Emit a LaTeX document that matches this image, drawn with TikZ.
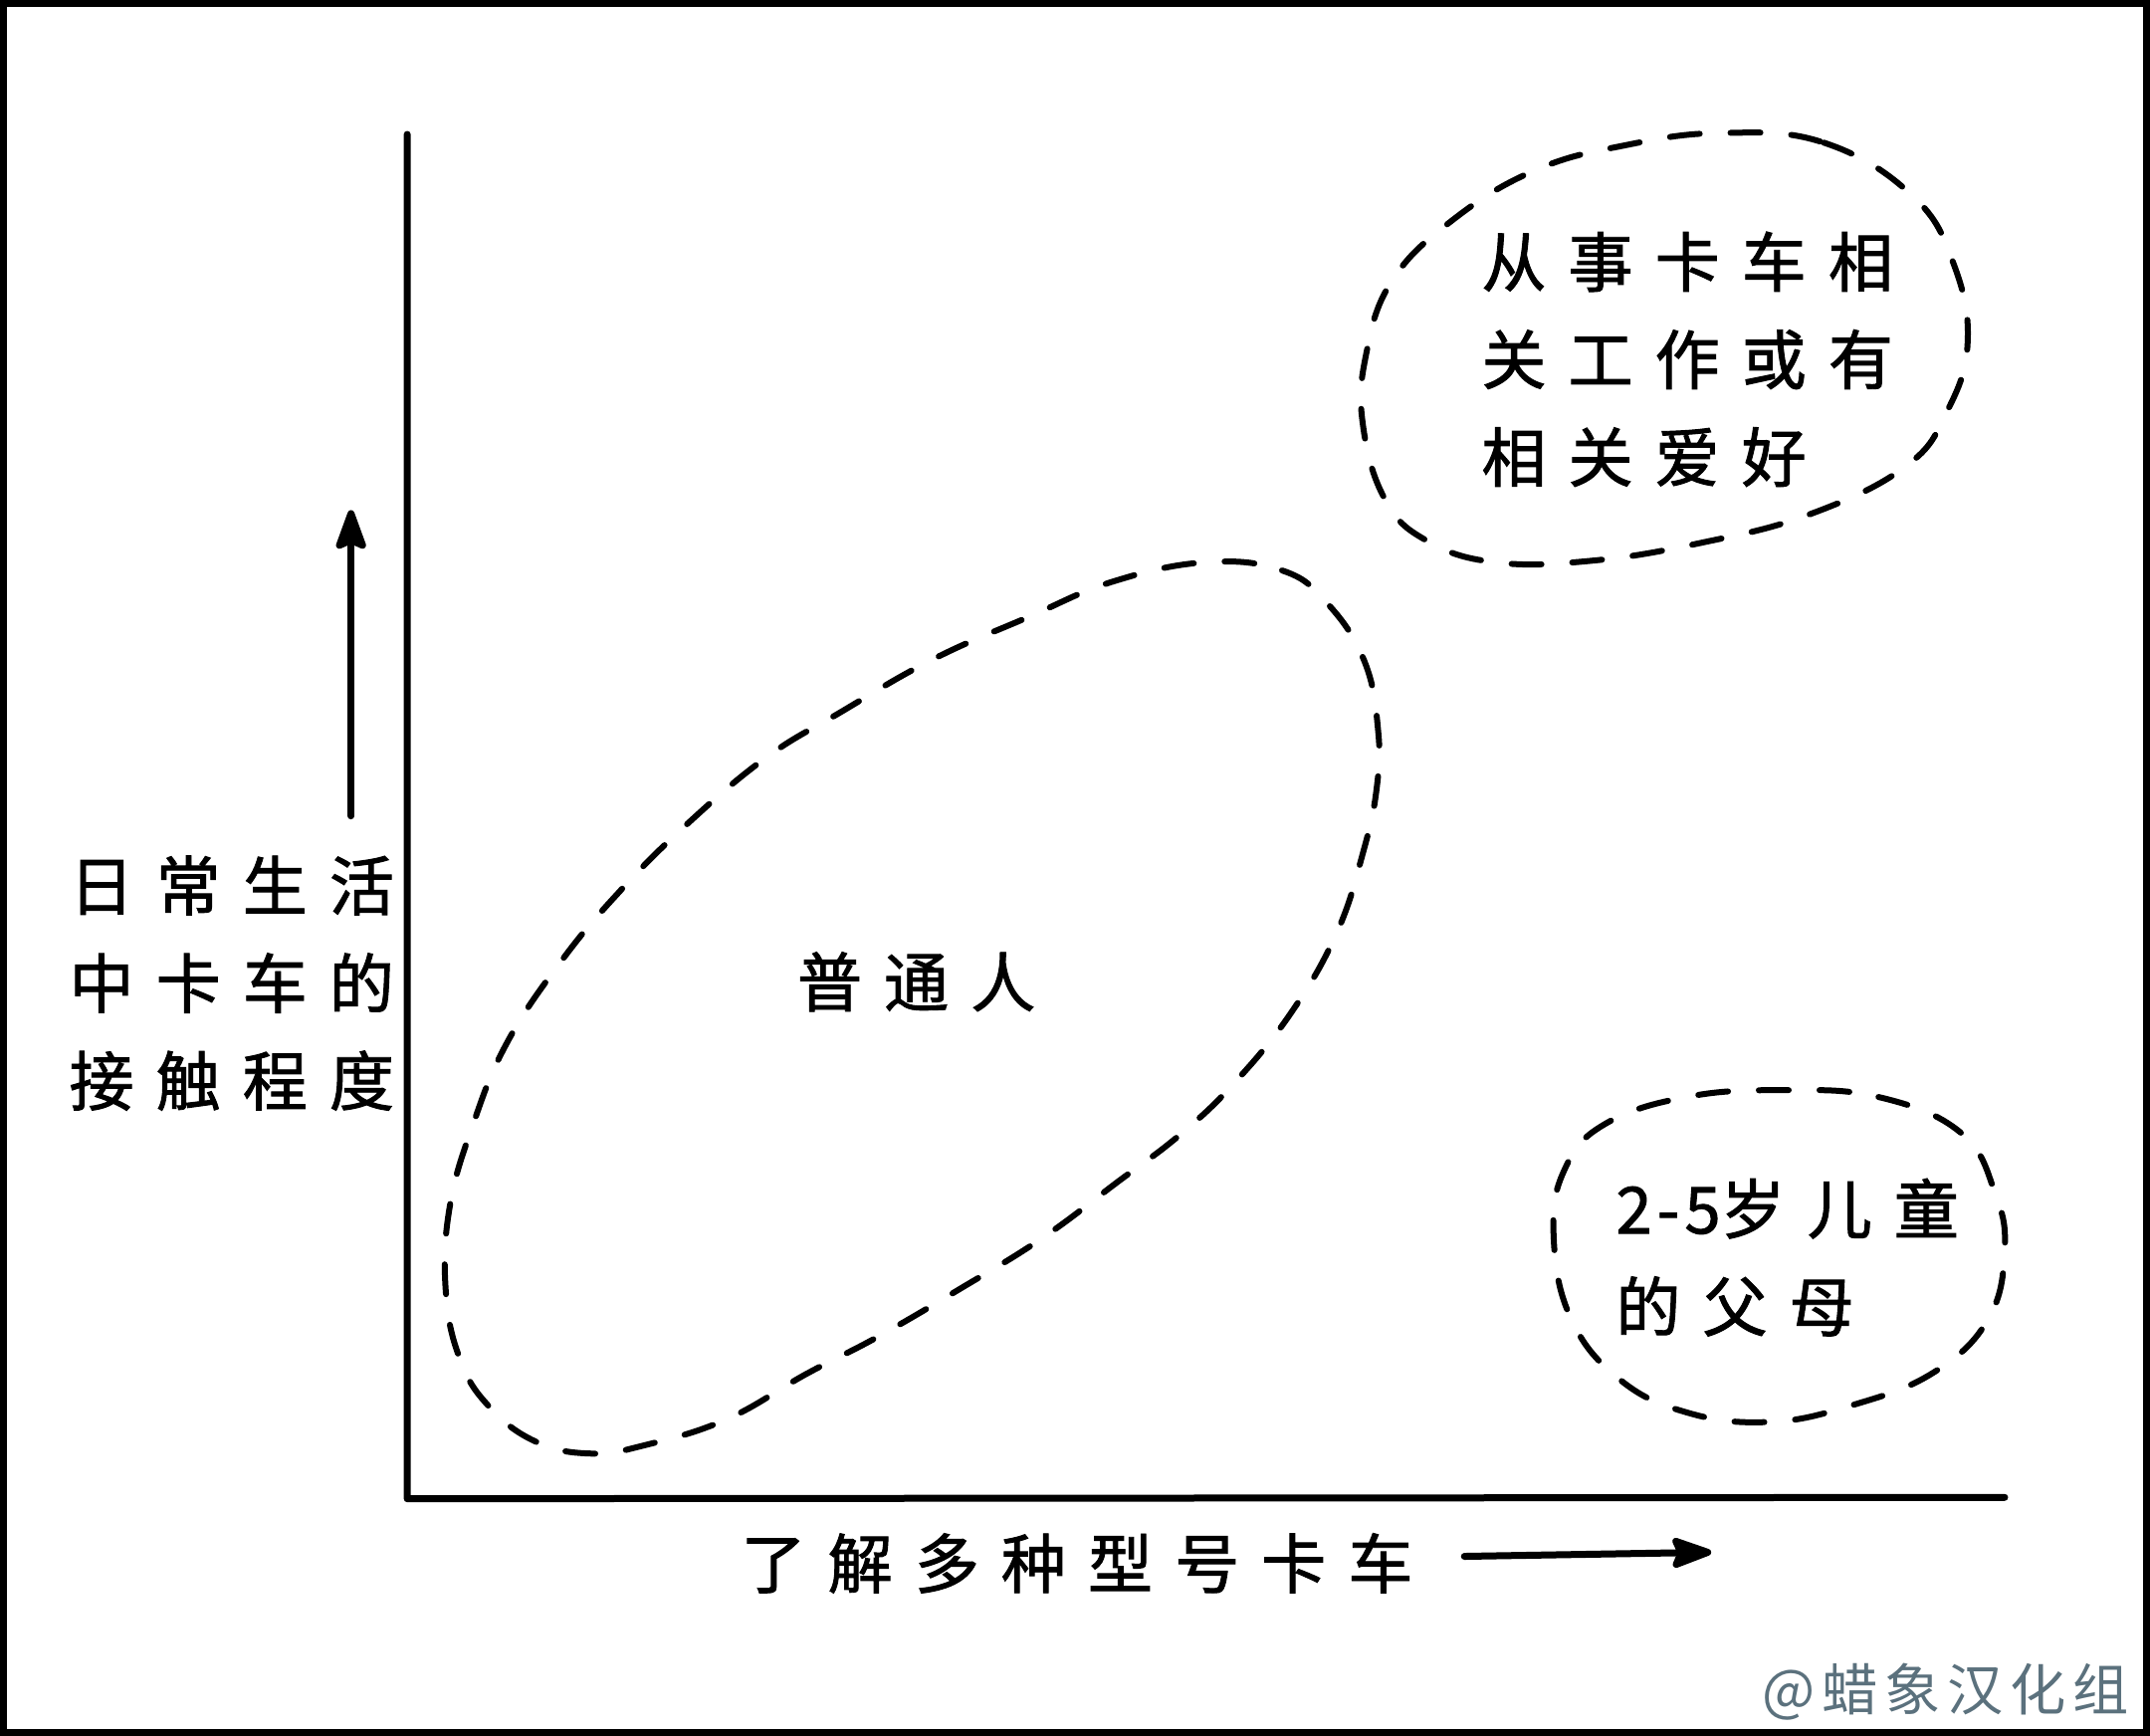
\documentclass[tikz,border=0pt]{standalone}
\usepackage{fontspec}
\usepackage{xcolor}
\usepackage{tikz}
\usetikzlibrary{arrows.meta}
\newfontfamily\cjk[LetterSpace=34, FakeBold=1.4]{Noto Sans CJK SC}
\newfontfamily\wmfont[LetterSpace=12]{Noto Sans CJK SC}
\definecolor{inkblack}{RGB}{0, 0, 0}
\definecolor{markgray}{RGB}{91, 113, 125}

\begin{document}
\begin{tikzpicture}[
  x=0.13776mm, y=-0.13776mm,
  axisline/.style={draw=inkblack, line width=0.7mm, line cap=round, line join=round},
  arrow/.style={-{Stealth[round, length=4.8mm, width=3.4mm, inset=0.7mm]}, line width=0.7mm, line cap=round, color=inkblack},
  group/.style={draw=inkblack, line width=0.6mm, line cap=round, dash pattern=on 3mm off 3.1mm},
  label/.style={inner sep=0pt, align=left, font=\cjk\fontsize{18.5}{27.9}\selectfont},
  watermark/.style={inner sep=0pt, text=markgray, font=\wmfont\fontsize{16}{18}\selectfont}
]
\useasboundingbox (0,0) rectangle (1568,1266);
\draw[line width=0.7mm] (2.5,2.5) rectangle (1565.5,1263.5);

\draw[axisline] (297,98) -- (297,1093) -- (1462,1092);

\coordinate (yfrom) at (256,595);
\coordinate (yto) at (256,372);
\coordinate (xfrom) at (1068,1135);
\coordinate (xto) at (1248,1132);
\draw[arrow] (yfrom) -- (yto);
\draw[arrow] (xfrom) -- (xto);

\node[label, anchor=west] (ylab) at (50,717) {日常生活\\中卡车的\\接触程度};
\node[label, anchor=west] (xlab) at (540,1140) {了解多种型号卡车};

\draw[group] plot[smooth cycle, tension=0.7] coordinates {
  (880,410) (935,416) (968,440) (995,482) (1005,532) (1004,575) (994,622)
  (975,680) (942,738) (900,790) (860,828) (815,862) (760,903) (700,940)
  (640,975) (588,1002) (530,1035) (470,1054) (430,1060) (390,1051)
  (356,1025) (335,990) (325,940) (328,880) (345,820) (370,760) (410,700)
  (452,650) (500,602) (558,553) (612,520) (680,481) (750,450) (812,424)};
\node[label, anchor=west] (common) at (581,716) {普通人};

\draw[group] plot[smooth cycle, tension=0.7] coordinates {
  (1255,97) (1330,104) (1395,143) (1425,193) (1435,250) (1420,300)
  (1390,340) (1320,375) (1240,396) (1160,409) (1090,410) (1040,394)
  (1010,364) (994,310) (996,260) (1015,205) (1060,160) (1120,124) (1185,106)};
\node[label, anchor=west] (pros) at (1080,262) {从事卡车相\\关工作或有\\相关爱好};

\draw[group] plot[smooth cycle, tension=0.7] coordinates {
  (1300,795) (1370,800) (1430,826) (1455,870) (1462,912) (1450,962)
  (1410,1001) (1350,1025) (1290,1037) (1230,1030) (1180,1005) (1145,960)
  (1133,900) (1141,853) (1170,820) (1230,800)};
\node[label, anchor=west] (parents) at (1178,917) {{\addfontfeature{LetterSpace=8}2-5}岁儿童\\的父母};

\node[watermark, anchor=west] (mark) at (1285,1234) {@蜡象汉化组};
\end{tikzpicture}
\end{document}
